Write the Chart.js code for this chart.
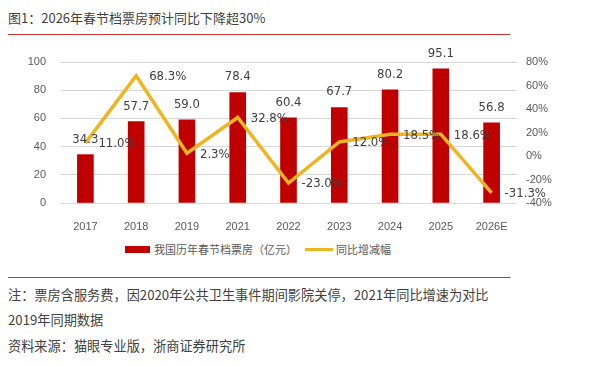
<!DOCTYPE html>
<html>
<head>
<meta charset="utf-8">
<script src="https://cdn.jsdelivr.net/npm/chart.js"></script>
<style>
  body { margin: 0; width: 589px; height: 366px; background: #fff; font-family: "Noto Sans CJK SC", sans-serif; color: #404040; position: relative; overflow: hidden; }
  #title { position: absolute; left: 8px; top: 8px; font-size: 13px; line-height: 20px; white-space: nowrap; }
  .rule { position: absolute; left: 8px; width: 502px; height: 1px; background: #c9302c; }
  #wrap { position: absolute; left: 0; top: 40px; width: 589px; height: 193px; }
  .note { position: absolute; left: 8px; font-size: 13.2px; line-height: 20px; white-space: nowrap; }
  .leg { position: absolute; font-size: 11px; line-height: 14px; color: #595959; white-space: nowrap; }
  .swatch { position: absolute; }
</style>
</head>
<body>
<div id="title">图1：2026年春节档票房预计同比下降超30%</div>
<div class="rule" style="top:34px"></div>
<div id="wrap"><canvas id="myChart"></canvas></div>
<div id="legend"></div>
<div class="rule" style="top:277px"></div>
<div class="note" style="top:285px">注：票房含服务费，因2020年公共卫生事件期间影院关停，2021年同比增速为对比</div>
<div class="note" style="top:310px">2019年同期数据</div>
<div class="note" style="top:336px">资料来源：猫眼专业版，浙商证券研究所</div>
<script>
    const years = ['2017', '2018', '2019', '2021', '2022', '2023', '2024', '2025', '2026E']
    const boxOffice = [34.3, 57.7, 59.0, 78.4, 60.4, 67.7, 80.2, 95.1, 56.8]
    const yoyGrowth = [11.0, 68.3, 2.3, 32.8, -23.0, 12.0, 18.5, 18.6, -31.3]
    const seriesNames = ['我国历年春节档票房（亿元）', '同比增减幅']
    const barColor = '#c00000'
    const lineColor = '#efb520'

    const tickFont = { family: 'Liberation Sans', size: 11 }
    const labelFont = '13px "Liberation Sans Narrow", "DejaVu Sans Condensed", sans-serif'

    // legend as plain html, placed like the original
    function buildLegend() {
        const lg = document.getElementById('legend')
        lg.innerHTML =
            `<div class="swatch" style="left:125px;top:246px;width:25px;height:7px;background:${barColor}"></div>` +
            `<div class="leg" style="left:154px;top:242px">${seriesNames[0]}</div>` +
            `<div class="swatch" style="left:305px;top:248px;width:28px;height:3px;background:${lineColor}"></div>` +
            `<div class="leg" style="left:336px;top:242px">${seriesNames[1]}</div>`
    }
    buildLegend()

    // simple value labels: bars above, line to the right
    const valueLabels = {
        id: 'valueLabels',
        afterDatasetsDraw(chart) {
            const ctx = chart.ctx
            ctx.save()
            ctx.font = labelFont
            ctx.fillStyle = '#404040'
            chart.getDatasetMeta(0).data.forEach((bar, i) => {
                ctx.textAlign = 'center'
                ctx.textBaseline = 'bottom'
                ctx.fillText(boxOffice[i].toFixed(1), bar.x, bar.y - 9)
            })
            chart.getDatasetMeta(1).data.forEach((pt, i) => {
                ctx.textAlign = 'left'
                ctx.textBaseline = 'middle'
                ctx.fillText(yoyGrowth[i].toFixed(1) + '%', pt.x + 13, pt.y + 1)
            })
            ctx.restore()
        }
    }

    const data = {
        labels: years,
        datasets: [
            {
                type: 'bar',
                label: seriesNames[0],
                data: boxOffice,
                backgroundColor: barColor,
                borderWidth: 0,
                barThickness: 16,
                yAxisID: 'y',
                order: 2
            },
            {
                type: 'line',
                label: seriesNames[1],
                data: yoyGrowth,
                borderColor: lineColor,
                backgroundColor: lineColor,
                borderWidth: 3.5,
                pointRadius: 0,
                tension: 0,
                yAxisID: 'y1',
                order: 1
            }
        ]
    }

    const config = {
        type: 'bar',
        data,
        options: {
            responsive: true,
            maintainAspectRatio: false,
            animation: false,
            layout: { padding: { top: 22, left: 0, right: 0, bottom: 0 } },
            plugins: {
                tooltip: { enabled: false },
                legend: { display: false }
            },
            scales: {
                x: {
                    grid: { display: false },
                    border: { display: false },
                    ticks: { color: '#595959', font: tickFont, padding: 9 },
                    afterFit(scale) { scale.height = 30 }
                },
                y: {
                    position: 'left',
                    min: 0, max: 100,
                    ticks: { stepSize: 20, color: '#595959', font: tickFont, padding: 14 },
                    grid: { color: '#d9d9d9', drawTicks: false },
                    border: { display: false },
                    afterFit(scale) { scale.width = 60 }
                },
                y1: {
                    position: 'right',
                    min: -40, max: 80,
                    ticks: { stepSize: 20, color: '#595959', font: tickFont, padding: 9, callback: v => v + '%' },
                    grid: { display: false, drawTicks: false },
                    border: { display: false },
                    afterFit(scale) { scale.width = 72 }
                }
            }
        },
        plugins: [valueLabels]
    }

    const myChart = new Chart(document.getElementById('myChart'), config)
</script>
</body>
</html>
